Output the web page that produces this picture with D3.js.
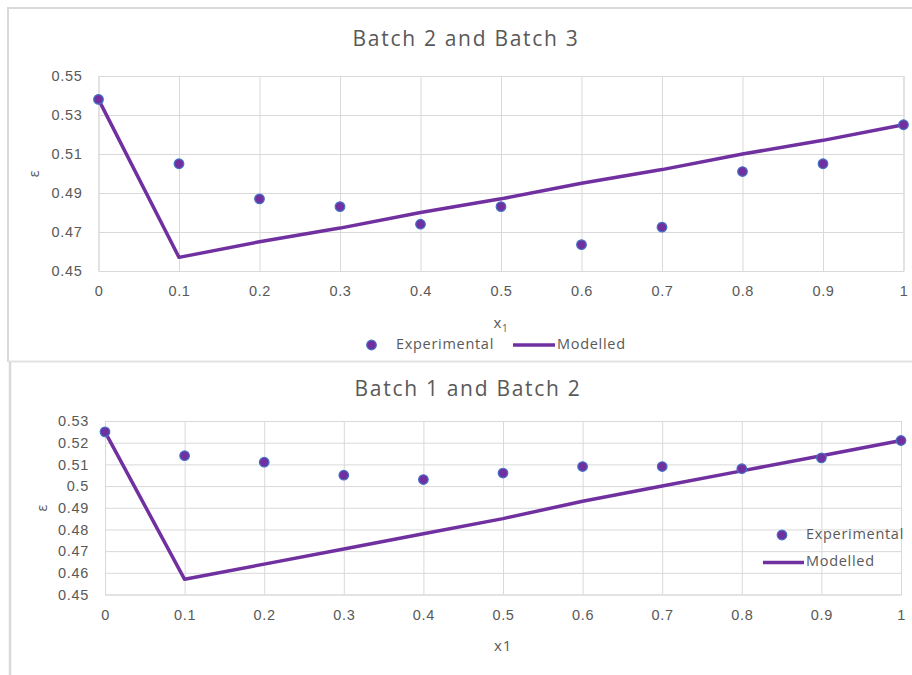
<!DOCTYPE html>
<html>
<head>
<meta charset="utf-8">
<script src="https://cdn.jsdelivr.net/npm/d3@7"></script>
<style>
  body { margin: 0; background: #fff; }
  svg { display: block; font-family: "Open Sans", sans-serif; }
</style>
</head>
<body>
<script>
// x1 fractions shared by both charts
const xValues = [0, 0.1, 0.2, 0.3, 0.4, 0.5, 0.6, 0.7, 0.8, 0.9, 1]

// Batch 2 and Batch 3
const expTop = [0.538, 0.505, 0.487, 0.483, 0.474, 0.483, 0.4635, 0.4725, 0.501, 0.505, 0.525]
const modTop = [0.538, 0.457, 0.465, 0.472, 0.480, 0.487, 0.495, 0.502, 0.510, 0.517, 0.525]
const yTicksTop = [0.45, 0.47, 0.49, 0.51, 0.53, 0.55]

// Batch 1 and Batch 2
const expBottom = [0.525, 0.514, 0.511, 0.505, 0.503, 0.506, 0.509, 0.509, 0.508, 0.513, 0.521]
const modBottom = [0.525, 0.457, 0.464, 0.471, 0.478, 0.485, 0.493, 0.500, 0.507, 0.514, 0.521]
const yTicksBottom = [0.45, 0.46, 0.47, 0.48, 0.49, 0.5, 0.51, 0.52, 0.53]

const purple = "#7030a0"
const blue = "#4472c4"
const grid = "#d9d9d9"
const textGray = "#595959"

let svg = d3.select("body").append("svg")
    .attr("width", 912)
    .attr("height", 675)

// chart frames
svg.append("path")
    .attr("d", "M8,362 L8,8 L912,8")
    .attr("fill", "none").attr("stroke", grid).attr("stroke-width", 2)
svg.append("line")
    .attr("x1", 8).attr("x2", 912).attr("y1", 361.5).attr("y2", 361.5)
    .attr("stroke", "#e3e3e3").attr("stroke-width", 2)
svg.append("line")
    .attr("x1", 10).attr("x2", 10).attr("y1", 362).attr("y2", 675)
    .attr("stroke", grid).attr("stroke-width", 2.5)

drawChart({
    title: "Batch 2 and Batch 3", titleX: 466, titleY: 40,
    exp: expTop, mod: modTop, yTicks: yTicksTop,
    xRange: [98.5, 903.5], yRange: [271, 76],
    yLabelX: 35, xLabelY: 328, subscript: true,
    legend: "bottom"
})

drawChart({
    title: "Batch 1 and Batch 2", titleX: 468, titleY: 390,
    exp: expBottom, mod: modBottom, yTicks: yTicksBottom,
    xRange: [105, 901], yRange: [594.5, 421],
    yLabelX: 43, xLabelY: 651, subscript: false,
    legend: "right"
})

function drawChart(c) {
    let x = d3.scaleLinear([0, 1], c.xRange)
    let y = d3.scaleLinear([c.yTicks[0], c.yTicks[c.yTicks.length - 1]], c.yRange)
    let g = svg.append("g").style("letter-spacing", "0.7px")
    let h = c.yRange[0] - c.yRange[1]
    let w = c.xRange[1] - c.xRange[0]

    g.append("text")
        .attr("x", c.titleX).attr("y", c.titleY)
        .attr("text-anchor", "middle").attr("dominant-baseline", "middle")
        .style("font-size", "21px").style("letter-spacing", "1.7px").style("fill", textGray)
        .text(c.title)

    // y grid + labels
    let ya = g.append("g")
        .attr("transform", "translate(" + c.xRange[0] + ",0)")
        .call(d3.axisLeft(y).tickValues(c.yTicks).tickSize(-w).tickPadding(16)
            .tickFormat(d => String(d)))
    ya.select(".domain").remove()
    ya.selectAll("line").attr("stroke", grid)
    ya.selectAll("text").style("font-size", "14.5px").style("fill", textGray)

    // x grid + labels
    let xa = g.append("g")
        .attr("transform", "translate(0," + c.yRange[0] + ")")
        .call(d3.axisBottom(x).tickValues(xValues).tickSize(-h).tickPadding(15)
            .tickFormat(d => String(d)))
    xa.select(".domain").attr("stroke", grid)
    xa.selectAll("line").attr("stroke", grid)
    xa.selectAll("text").style("font-size", "14.5px").style("fill", textGray)

    // axis titles
    g.append("text")
        .attr("transform", "translate(" + c.yLabelX + "," + (c.yRange[0] + c.yRange[1]) / 2 + ") rotate(-90)")
        .attr("text-anchor", "middle").attr("dominant-baseline", "middle")
        .style("font-size", "14px").style("fill", textGray)
        .text("ε")
    let xt = g.append("text")
        .attr("x", (c.xRange[0] + c.xRange[1]) / 2).attr("y", c.xLabelY)
        .attr("text-anchor", "middle")
        .style("font-size", "15px").style("fill", textGray)
    if (c.subscript) {
        xt.append("tspan").text("x")
        xt.append("tspan").attr("dy", 4).style("font-size", "10px").text("1")
    } else {
        xt.text("x1")
    }

    // modelled line
    let line = d3.line()
        .x((d, i) => x(xValues[i]))
        .y(d => y(d))
    g.append("path")
        .datum(c.mod)
        .attr("d", line)
        .attr("fill", "none")
        .attr("stroke", purple)
        .attr("stroke-width", 3.5)
        .attr("stroke-linejoin", "round")

    // experimental points
    g.selectAll("circle.exp")
        .data(c.exp)
        .enter()
        .append("circle")
            .attr("class", "exp")
            .attr("cx", (d, i) => x(xValues[i]))
            .attr("cy", d => y(d))
            .attr("r", 4.8)
            .attr("fill", purple)
            .attr("stroke", blue)
            .attr("stroke-width", 1.2)

    // legend
    let lg = g.append("g").style("font-size", "14.5px").style("fill", textGray)
    if (c.legend === "bottom") {
        lg.append("circle").attr("cx", 371.5).attr("cy", 345).attr("r", 4.8)
            .attr("fill", purple).attr("stroke", blue).attr("stroke-width", 1.2)
        lg.append("text").attr("x", 396).attr("y", 345).attr("dominant-baseline", "middle").text("Experimental")
        lg.append("line").attr("x1", 513).attr("x2", 555).attr("y1", 345).attr("y2", 345)
            .attr("stroke", purple).attr("stroke-width", 3.5)
        lg.append("text").attr("x", 557).attr("y", 345).attr("dominant-baseline", "middle").text("Modelled")
    } else {
        lg.append("circle").attr("cx", 782).attr("cy", 535).attr("r", 4.8)
            .attr("fill", purple).attr("stroke", blue).attr("stroke-width", 1.2)
        lg.append("text").attr("x", 806).attr("y", 535).attr("dominant-baseline", "middle").text("Experimental")
        lg.append("line").attr("x1", 763).attr("x2", 804).attr("y1", 562.5).attr("y2", 562.5)
            .attr("stroke", purple).attr("stroke-width", 3.5)
        lg.append("text").attr("x", 806).attr("y", 562.5).attr("dominant-baseline", "middle").text("Modelled")
    }
}
</script>
</body>
</html>
